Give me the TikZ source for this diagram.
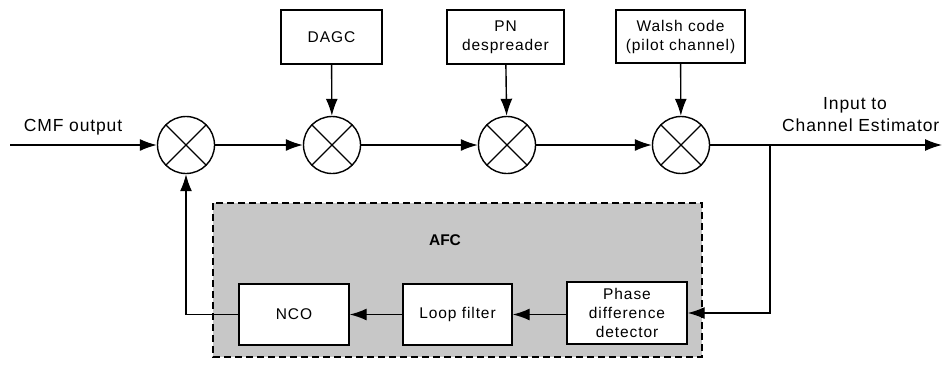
\documentclass[tikz,border=0pt]{standalone}
\usepackage{fontspec}
\setmainfont{Liberation Sans}
\usetikzlibrary{arrows.meta}
\begin{document}
\begin{tikzpicture}[x=1pt,y=-1pt,
  line width=1.4pt,
  arr/.style={-{Latex[length=17pt,width=12pt]}},
  mixer/.style={draw,circle,minimum size=57pt,inner sep=0pt,
    path picture={\draw[line width=1.2pt] (path picture bounding box.north west) -- (path picture bounding box.south east)
      (path picture bounding box.north east) -- (path picture bounding box.south west);}},
  blk/.style={draw,fill=white,align=center,inner sep=0pt,font=\fontsize{15.5}{19}\selectfont\addfontfeatures{LetterSpace=6}},
  lbl/.style={font=\fontsize{17.5}{21}\selectfont\addfontfeatures{LetterSpace=5},inner sep=0pt}]
\useasboundingbox (0,0) rectangle (944,365);
% AFC region
\draw[dashed,dash pattern=on 7pt off 4pt,line width=1.6pt,fill=black!22] (213,203) rectangle (702,357);
\node[font=\fontsize{15.5}{19}\selectfont\bfseries] (afc) at (445,240) {AFC};
% mixers
\node[mixer] (m1) at (186,145) {};
\node[mixer] (m2) at (332,145) {};
\node[mixer] (m3) at (507,145) {};
\node[mixer] (m4) at (681,145) {};
% top boxes
\node[blk,minimum width=101pt,minimum height=54pt] (dagc) at (331.5,37) {DAGC};
\node[blk,minimum width=117pt,minimum height=54pt] (pn) at (505.5,37) {PN\\despreader};
\node[blk,minimum width=129pt,minimum height=53pt] (walsh) at (680.5,36.5) {Walsh code\\(pilot channel)};
% AFC blocks
\node[blk,minimum width=110pt,minimum height=61pt] (nco) at (294,314.5) {NCO};
\node[blk,minimum width=109pt,minimum height=61pt] (loop) at (457.5,314.5) {Loop filter};
\node[blk,minimum width=120pt,minimum height=62pt] (phase) at (627,313) {Phase\\difference\\detector};
% labels
\node[lbl] (cmf) at (73,127) {CMF output};
\node[lbl] (inp) at (855,105) {Input to};
\node[lbl,anchor=east] (che) at (940,125) {Channel Estimator};
% coordinates
\coordinate (in) at (10,145);
\coordinate (out) at (942,145);
\coordinate (br) at (770,145);
\coordinate (brd) at (770,313);
\coordinate (nc) at (186,314.5);
% connections
\draw[arr] (in) -- (m1);
\draw[arr] (m1) -- (m2);
\draw[arr] (m2) -- (m3);
\draw[arr] (m3) -- (m4);
\draw[arr] (m4) -- (out);
\draw[arr] (dagc) -- (m2);
\draw[arr] (pn) -- (m3);
\draw[arr] (walsh) -- (m4);
\draw[arr] (br) -- (brd) -- (phase.east |- brd);
\draw[arr] (phase.west |- loop) -- (loop);
\draw[arr] (loop) -- (nco);
\draw[arr] (nco.west) -- (nc) -- (m1);
\end{tikzpicture}
\end{document}
